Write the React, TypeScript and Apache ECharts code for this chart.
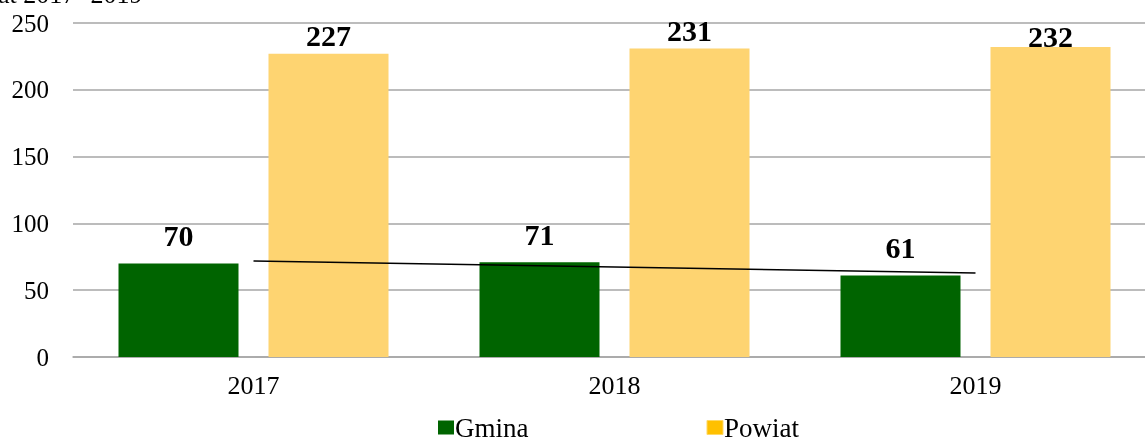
import React, { useEffect, useRef } from "react";
import * as echarts from "echarts";

const categories = ["2017", "2018", "2019"];
const gmina = [70, 71, 61];
const powiat = [227, 231, 232];
const yTicks = { min: 0, max: 250, interval: 50 };
const titleFragment = "at 2017- 2019";

const FONT = "'Times New Roman', 'Liberation Serif', serif";

function trend(vals: number[]): number[] {
  const n = vals.length;
  const xs = vals.map((_, i) => i);
  const mx = xs.reduce((a, b) => a + b, 0) / n;
  const my = vals.reduce((a, b) => a + b, 0) / n;
  let num = 0;
  let den = 0;
  xs.forEach((x, i) => {
    num += (x - mx) * (vals[i] - my);
    den += (x - mx) * (x - mx);
  });
  const k = num / den;
  return xs.map((x) => my + k * (x - mx));
}

export default function App() {
  const ref = useRef<HTMLDivElement>(null);
  useEffect(() => {
    if (!ref.current) return;
    const chart = echarts.init(ref.current, null, { renderer: "svg" });
    const labelStyle = {
      show: true,
      position: "top" as const,
      fontFamily: FONT,
      fontWeight: "bold" as const,
      fontSize: 30,
      color: "#000",
    };
    chart.setOption({
      animation: false,
      grid: { left: 73, right: 9, top: 23, bottom: 89, containLabel: false },
      graphic: [
        {
          type: "text",
          left: -2,
          top: -19,
          style: { text: titleFragment, font: `26px ${FONT}`, fill: "#000" },
        },
      ],
      legend: {
        left: 433,
        bottom: 0,
        itemWidth: 16,
        itemHeight: 14,
        itemGap: 178,
        icon: "rect",
        textStyle: { fontFamily: FONT, fontSize: 27, color: "#000", padding: [0, 0, 0, -4] },
        data: [
          { name: "Gmina", itemStyle: { color: "#006400" } },
          { name: "Powiat", itemStyle: { color: "#FFC000", borderColor: "#FFD966", borderWidth: 1 } },
        ],
      },
      xAxis: {
        type: "category",
        data: categories,
        axisLine: { lineStyle: { color: "#A6A6A6", width: 1.5 } },
        axisTick: { show: false },
        axisLabel: { fontFamily: FONT, fontSize: 26, color: "#000", margin: 15 },
      },
      yAxis: {
        type: "value",
        min: yTicks.min,
        max: yTicks.max,
        interval: yTicks.interval,
        axisLine: { show: false },
        axisTick: { show: false },
        axisLabel: { fontFamily: FONT, fontSize: 25, color: "#000", margin: 24 },
        splitLine: { lineStyle: { color: "#A6A6A6", width: 1.5 } },
      },
      series: [
        {
          name: "Gmina",
          type: "bar",
          data: gmina,
          barWidth: 120,
          barGap: "25%",
          itemStyle: { color: "#006400" },
          label: { ...labelStyle, distance: 13 },
        },
        {
          name: "Powiat",
          type: "bar",
          data: powiat.map((v, i) =>
            i === 2 ? { value: v, label: { offset: [0, 7] } } : v
          ),
          barWidth: 120,
          itemStyle: { color: "#FED471" },
          label: { ...labelStyle, distance: 3 },
        },
        {
          name: "Trend",
          type: "line",
          data: trend(gmina),
          symbol: "none",
          z: 5,
          lineStyle: { color: "#000", width: 1.5 },
          tooltip: { show: false },
        },
      ],
    });
    return () => chart.dispose();
  }, []);
  return (
    <div
      style={{
        position: "fixed",
        left: 0,
        top: 0,
        width: 1145,
        height: 446,
        overflow: "hidden",
      }}
    >
      <div ref={ref} style={{ width: 1165, height: 446 }} />
    </div>
  );
}
